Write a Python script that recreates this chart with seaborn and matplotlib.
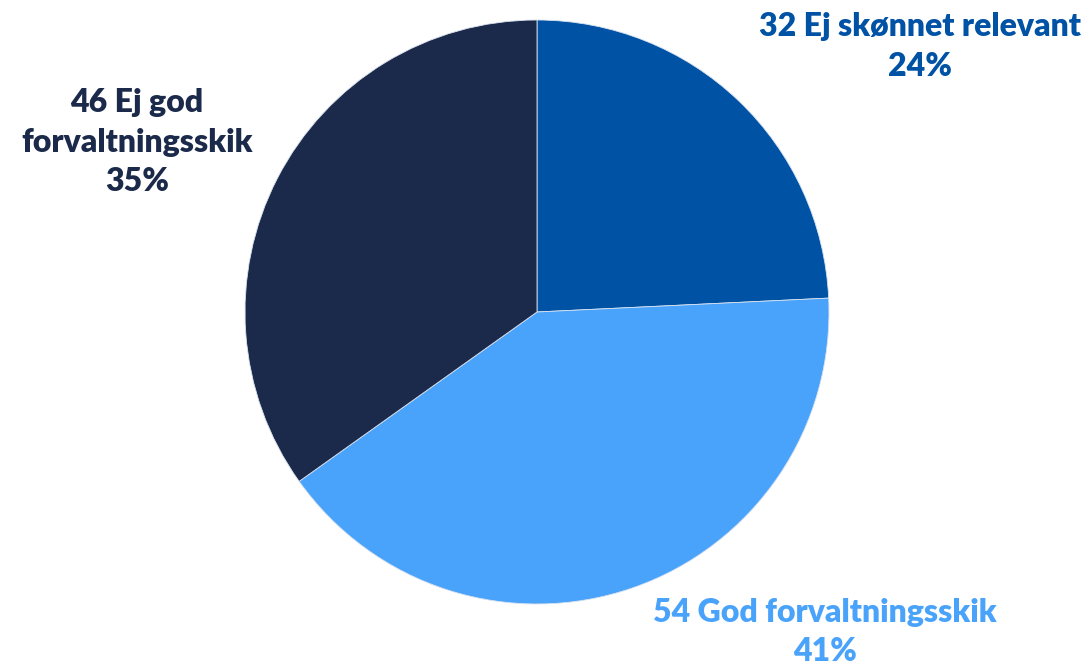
import matplotlib
matplotlib.use("Agg")
import matplotlib.pyplot as plt
import seaborn as sns

# Data
categories = ["Ej skønnet relevant", "God forvaltningsskik", "Ej god\nforvaltningsskik"]
counts = [32, 54, 46]
colors = ["#0052A5", "#4AA3FA", "#1B2A4A"]

sns.set_style("white")
plt.rcParams['font.family'] = ['Lato', 'DejaVu Sans']

fig = plt.figure(figsize=(10.89, 6.67), dpi=100)
# pie centre ~ (537, 312) px, radius ~ 292 px
ax = fig.add_axes([245 / 1089, 63 / 667, 584 / 1089, 584 / 667])
ax.pie(counts, colors=colors, startangle=90, counterclock=False, radius=1,
       wedgeprops=dict(edgecolor="#d9e2ef", linewidth=0.6))
ax.set_xlim(-1, 1)
ax.set_ylim(-1, 1)
ax.set_aspect("equal")
ax.axis("off")

total = sum(counts)
label_pos = [(1.312, 0.908), (0.986, -1.096), (-1.370, 0.582)]
for cat, n, col, (x, y) in zip(categories, counts, colors, label_pos):
    pct = round(100 * n / total)
    ax.text(x, y, f"{n} {cat}\n{pct}%", color=col, fontsize=23, fontweight="heavy",
            ha="center", va="center", linespacing=1.45, clip_on=False)

fig.savefig("out.png", dpi=100)
